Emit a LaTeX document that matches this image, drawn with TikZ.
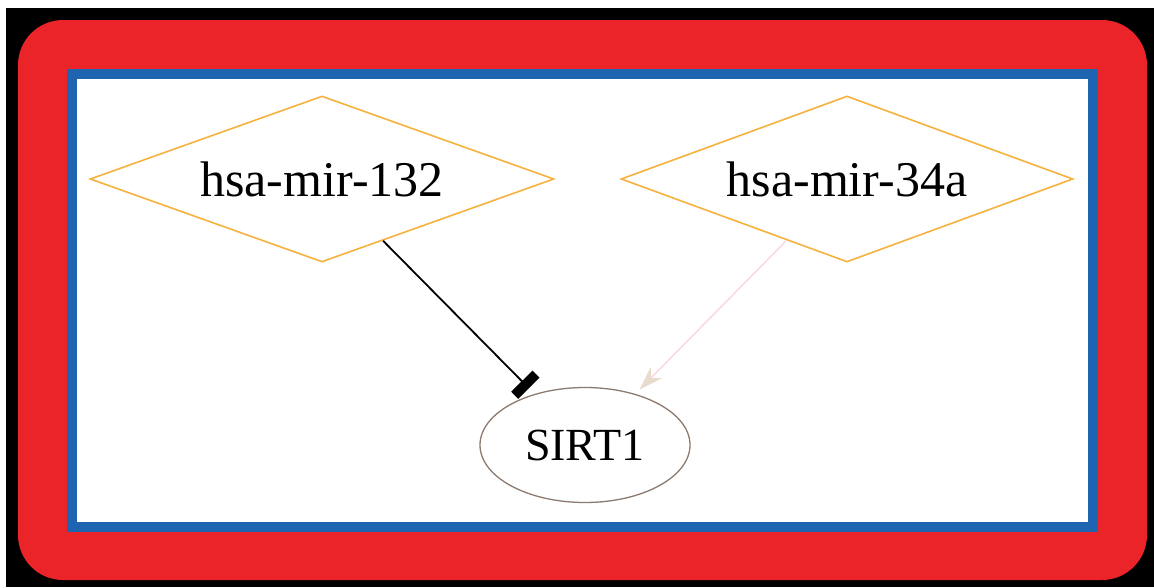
\documentclass[tikz,border=0pt]{standalone}
\usepackage{fontspec}
\setmainfont{Liberation Serif}
\usetikzlibrary{shapes.geometric,arrows.meta}
\definecolor{framered}{RGB}{234,36,40}
\definecolor{frameblue}{RGB}{30,100,176}
\definecolor{mirorange}{RGB}{246,178,62}
\definecolor{genegray}{RGB}{140,122,112}
\definecolor{faintpink}{RGB}{248,215,222}
\definecolor{faintbeige}{RGB}{232,218,204}
\tikzset{
  mirna/.style={diamond, draw=mirorange, line width=1.6pt, aspect=2.8, inner sep=0pt,
    minimum width=464pt, minimum height=166pt, font=\fontsize{50}{55}\selectfont},
  gene/.style={ellipse, draw=genegray, line width=1.3pt, inner sep=0pt,
    minimum width=210pt, minimum height=115pt, font=\fontsize{46}{50}\selectfont},
  inhibit/.style={draw=black, line width=1.8pt, shorten >=8pt,
    -{Rectangle[length=10pt,width=30pt]}},
  faintarrow/.style={draw=faintpink, line width=1.4pt, shorten >=6pt,
    -{Stealth[length=24pt,width=16pt,fill=faintbeige,color=faintbeige]}}
}
\begin{document}
\begin{tikzpicture}[x=1pt,y=-1pt]
\useasboundingbox (0,0) rectangle (1154,587);
\fill[white] (0,0) rectangle (1154,587);
\fill[black] (6,8) rectangle (1154,587);
\fill[framered, rounded corners=45pt] (18,20) rectangle (1147,580);
\draw[frameblue, line width=10pt, fill=white] (72,74) rectangle (1093,527);
\node[mirna] (m132) at (322,179) {hsa-mir-132};
\node[mirna, minimum width=452pt] (m34a) at (847,179) {hsa-mir-34a};
\node[gene] (sirt) at (585,445) {SIRT1};
\draw[faintarrow] (m34a) -- (sirt);
\draw[inhibit] (m132) -- (sirt);
\end{tikzpicture}
\end{document}
